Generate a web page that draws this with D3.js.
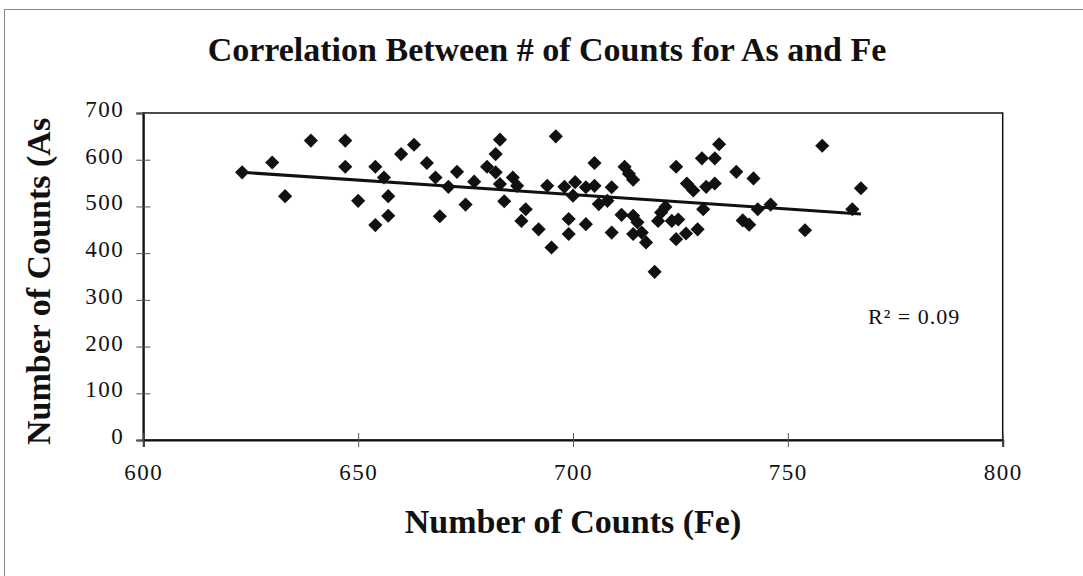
<!DOCTYPE html>
<html>
<head>
<meta charset="utf-8">
<script src="https://cdn.jsdelivr.net/npm/d3@7"></script>
<style>
  html, body { margin: 0; padding: 0; background: #fff; }
  svg { display: block; font-family: "Liberation Serif", "Times New Roman", serif; }
</style>
</head>
<body>
<svg id="chart" width="1083" height="576"></svg>
<script>
// Fe counts (x) and As counts (y)
const feCounts = [
  623, 630, 639, 647, 633, 647, 660, 663, 654, 656, 657, 650, 657, 654,
  666, 668, 673, 671, 669, 675, 677, 683, 682, 680, 682, 686, 687, 683,
  684, 689, 688, 692, 696, 694, 695, 698, 700.5, 700, 703, 705, 706, 708,
  705, 699, 699, 703, 709, 709,
  712, 714, 713, 724, 726.5, 728, 734, 730, 733, 731, 733, 738, 742, 743,
  746, 739.5, 741, 754, 721.5, 720.5, 730.3, 719.8, 723, 724.5, 711.3, 714,
  715, 714, 716, 717, 724, 726.3, 729, 719, 758, 767, 765
];
const asCounts = [
  573, 594, 641, 641, 522, 585, 612, 632, 585, 562, 522, 512, 480, 460,
  593, 562, 574, 542, 479, 504, 553, 643, 612, 585, 573, 562, 544, 548,
  511, 494, 469, 451, 650, 544, 412, 542, 552, 523, 541, 544, 505, 512,
  593, 473, 441, 462, 541, 444,
  585, 557, 570, 585, 549, 534, 633, 603, 603, 542, 549, 574, 560, 494,
  504, 470, 461, 449, 499, 487, 494, 469, 469, 472, 482, 480,
  466, 441, 444, 423, 430, 442, 451, 360, 630, 539, 494
];

// linear trend line end points as drawn on the chart
const trendFe = [623, 767];
const trendAs = [573, 484];

const xTicks = [600, 650, 700, 750, 800];
const yTicks = [0, 100, 200, 300, 400, 500, 600, 700];

const titleText = "Correlation Between # of Counts for As and Fe";
const xLabelText = "Number of Counts (Fe)";
const yLabelText = "Number of Counts (As";
const rSquaredText = "R\u00B2 = 0.09";

const svg = d3.select("#chart");

const plot = { left: 143.3, right: 1002.7, top: 113, bottom: 440 };

const x = d3.scaleLinear().domain([600, 800]).range([plot.left, plot.right]);
const y = d3.scaleLinear().domain([0, 700]).range([plot.bottom, plot.top]);

// outer chart frame (only left and top edges visible in the scan)
svg.append("rect")
  .attr("x", 4.5).attr("y", 9.5)
  .attr("width", 1200).attr("height", 700)
  .attr("fill", "none")
  .attr("stroke", "#888")
  .attr("stroke-width", 1);

// title
svg.append("text")
  .attr("x", 547)
  .attr("y", 61)
  .attr("text-anchor", "middle")
  .attr("font-size", 34)
  .attr("font-weight", "bold")
  .attr("fill", "#111")
  .text(titleText);

// plot area box
svg.append("rect")
  .attr("x", plot.left).attr("y", plot.top)
  .attr("width", plot.right - plot.left)
  .attr("height", plot.bottom - plot.top)
  .attr("fill", "none")
  .attr("stroke", "#111")
  .attr("stroke-width", 1.5);

// axes
const yAxis = svg.append("g")
  .attr("transform", `translate(${plot.left},0)`)
  .call(d3.axisLeft(y).tickValues(yTicks).tickSize(7).tickPadding(12));

const xAxis = svg.append("g")
  .attr("transform", `translate(0,${plot.bottom})`)
  .call(d3.axisBottom(x).tickValues(xTicks).tickSize(7).tickPadding(15));

[yAxis, xAxis].forEach((ax) => {
  ax.select(".domain").attr("stroke", "#111").attr("stroke-width", 2);
  ax.selectAll(".tick line").attr("stroke", "#555").attr("stroke-width", 1);
  ax.selectAll(".tick text")
    .attr("font-family", "Liberation Serif, serif")
    .attr("font-size", 23)
    .attr("letter-spacing", 1.5)
    .attr("fill", "#111");
});
// ticks cross the axis lines
yAxis.selectAll(".tick line").attr("x1", -7).attr("x2", 7);
xAxis.selectAll(".tick line").attr("y1", -7).attr("y2", 7);
yAxis.selectAll(".tick text").attr("dy", "0.15em");
xAxis.selectAll(".tick text").attr("dy", "0.8em");

// trend line
svg.append("line")
  .attr("x1", x(trendFe[0])).attr("y1", y(trendAs[0]))
  .attr("x2", x(trendFe[1])).attr("y2", y(trendAs[1]))
  .attr("stroke", "#111")
  .attr("stroke-width", 3);

// diamond markers
const diamond = d3.symbol().type(d3.symbolSquare).size(100);
svg.append("g")
  .selectAll("path")
  .data(d3.zip(feCounts, asCounts))
  .join("path")
  .attr("d", diamond)
  .attr("transform", (d) => `translate(${x(d[0])},${y(d[1])}) rotate(45)`)
  .attr("fill", "#111");

// R squared label
svg.append("text")
  .attr("x", 868)
  .attr("y", 324)
  .attr("font-size", 22)
  .attr("letter-spacing", 1)
  .attr("fill", "#111")
  .text(rSquaredText);

// axis titles
svg.append("text")
  .attr("x", (plot.left + plot.right) / 2)
  .attr("y", 533)
  .attr("text-anchor", "middle")
  .attr("font-size", 34)
  .attr("font-weight", "bold")
  .attr("fill", "#111")
  .text(xLabelText);

svg.append("text")
  .attr("transform", "translate(50,445) rotate(-90)")
  .attr("font-size", 34)
  .attr("font-weight", "bold")
  .attr("fill", "#111")
  .text(yLabelText);
</script>
</body>
</html>
